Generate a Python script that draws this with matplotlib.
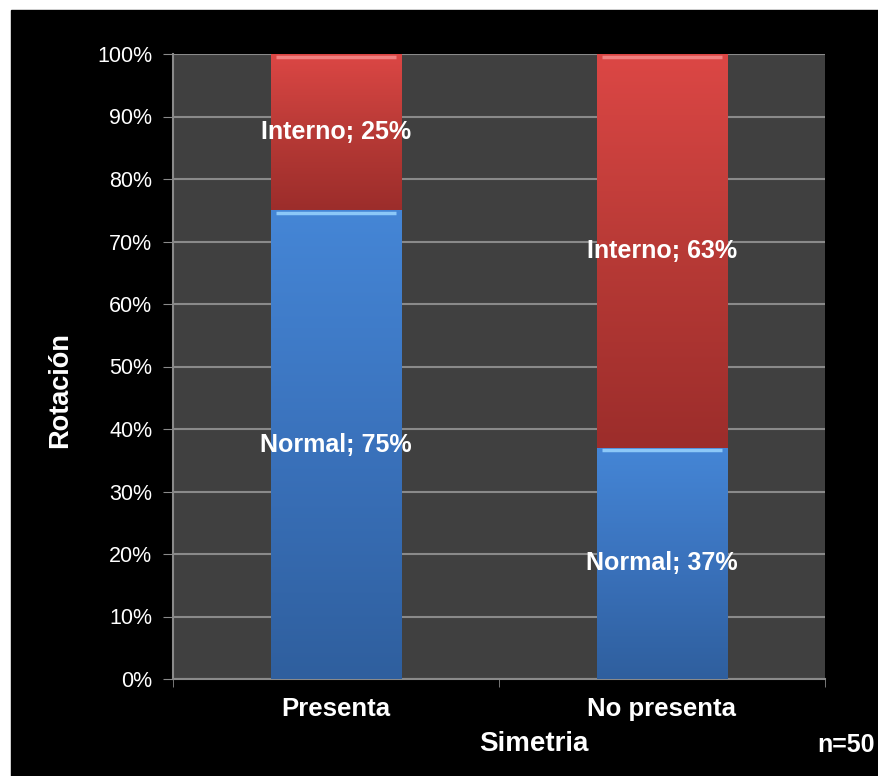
import numpy as np
import matplotlib
matplotlib.use("Agg")
import matplotlib.pyplot as plt
from matplotlib.colors import LinearSegmentedColormap
from matplotlib.patches import Rectangle

plt.rcParams['font.family'] = ['Liberation Sans', 'DejaVu Sans']

# Data
categories = ["Presenta", "No presenta"]
normal = [75, 37]
interno = [25, 63]
series_names = ["Normal", "Interno"]
x_label = "Simetria"
y_label = "Rotación"
note = "n=50"

W, H = 879, 776
fig = plt.figure(figsize=(W / 100, H / 100), dpi=100, facecolor="white")
# black slide background
fig.patches.append(Rectangle((11 / W, 0), 1 - 11 / W, 1 - 10 / H,
                             transform=fig.transFigure, color="black", zorder=-10))

ax = fig.add_axes([173 / W, 1 - 679 / H, (825 - 173) / W, (679 - 54) / H])
ax.set_zorder(1)
ax.set_facecolor("#404040")

x = np.arange(len(categories))
width = 0.4

blue_cmap = LinearSegmentedColormap.from_list("b", ["#2f5f9e", "#3a72bc", "#4586d6"])
red_cmap = LinearSegmentedColormap.from_list("r", ["#9c2d2b", "#b83a36", "#dc4745"])
blue_hi = "#8cc8f8"
red_hi = "#f08080"

def gradient_bar(xc, bottom, height, cmap, hi):
    bars = ax.bar(xc, height, width, bottom=bottom, color="none",
                  edgecolor="none", zorder=3)
    patch = bars[0]
    grad = np.linspace(0, 1, 256).reshape(-1, 1)
    im = ax.imshow(grad, cmap=cmap, origin="lower", aspect="auto",
                   extent=(xc - width / 2, xc + width / 2, bottom, bottom + height),
                   zorder=3)
    im.set_clip_path(patch)
    # bevelled light edge along the top of the segment
    ax.plot([xc - width / 2 + 0.015, xc + width / 2 - 0.015],
            [bottom + height - 0.4, bottom + height - 0.4],
            color=hi, lw=2.5, zorder=4, solid_capstyle="butt")

for i in range(len(categories)):
    gradient_bar(x[i], 0, normal[i], blue_cmap, blue_hi)
    gradient_bar(x[i], normal[i], interno[i], red_cmap, red_hi)
    ax.text(x[i], normal[i] / 2, f"{series_names[0]}; {normal[i]}%",
            ha="center", va="center", color="white", fontsize=18,
            fontweight="bold", zorder=5)
    ax.text(x[i], normal[i] + interno[i] / 2, f"{series_names[1]}; {interno[i]}%",
            ha="center", va="center", color="white", fontsize=18,
            fontweight="bold", zorder=5)

ax.set_xlim(-0.5, len(categories) - 0.5)
ax.set_ylim(0, 100)
ax.set_yticks(np.arange(0, 101, 10))
ax.set_yticklabels([f"{v}%" for v in range(0, 101, 10)], color="white", fontsize=15.5)
ax.yaxis.grid(True, color="#8a8a8a", lw=1.5, zorder=1)
ax.set_axisbelow(True)

ax.set_xticks(x)
ax.set_xticklabels(categories, color="white", fontsize=18.5, fontweight="bold")
ax.set_xticks([-0.5, 0.5, 1.5], minor=True)
ax.tick_params(axis="x", which="major", length=0, pad=13)
ax.tick_params(axis="x", which="minor", length=6, color="#8a8a8a")
ax.tick_params(axis="y", length=7, color="#8a8a8a", pad=8)

for s in ["top", "right"]:
    ax.spines[s].set_visible(False)
for s in ["left", "bottom"]:
    ax.spines[s].set_color("#8a8a8a")
    ax.spines[s].set_linewidth(1.5)

ax.set_xlabel(x_label, color="white", fontsize=20, fontweight="bold")
ax.xaxis.set_label_coords(534 / W, 1 - 744 / H, transform=fig.transFigure)
ax.xaxis.label.set_verticalalignment("center")
ax.set_ylabel(y_label, color="white", fontsize=19.5, fontweight="bold")
ax.yaxis.set_label_coords(60 / W, 1 - 390 / H, transform=fig.transFigure)
ax.yaxis.label.set_verticalalignment("center")

fig.text(875 / W, 1 - 745 / H, note, ha="right", va="center", color="white",
         fontsize=18, fontweight="bold")

fig.savefig("out.png", dpi=100, facecolor=fig.get_facecolor())
